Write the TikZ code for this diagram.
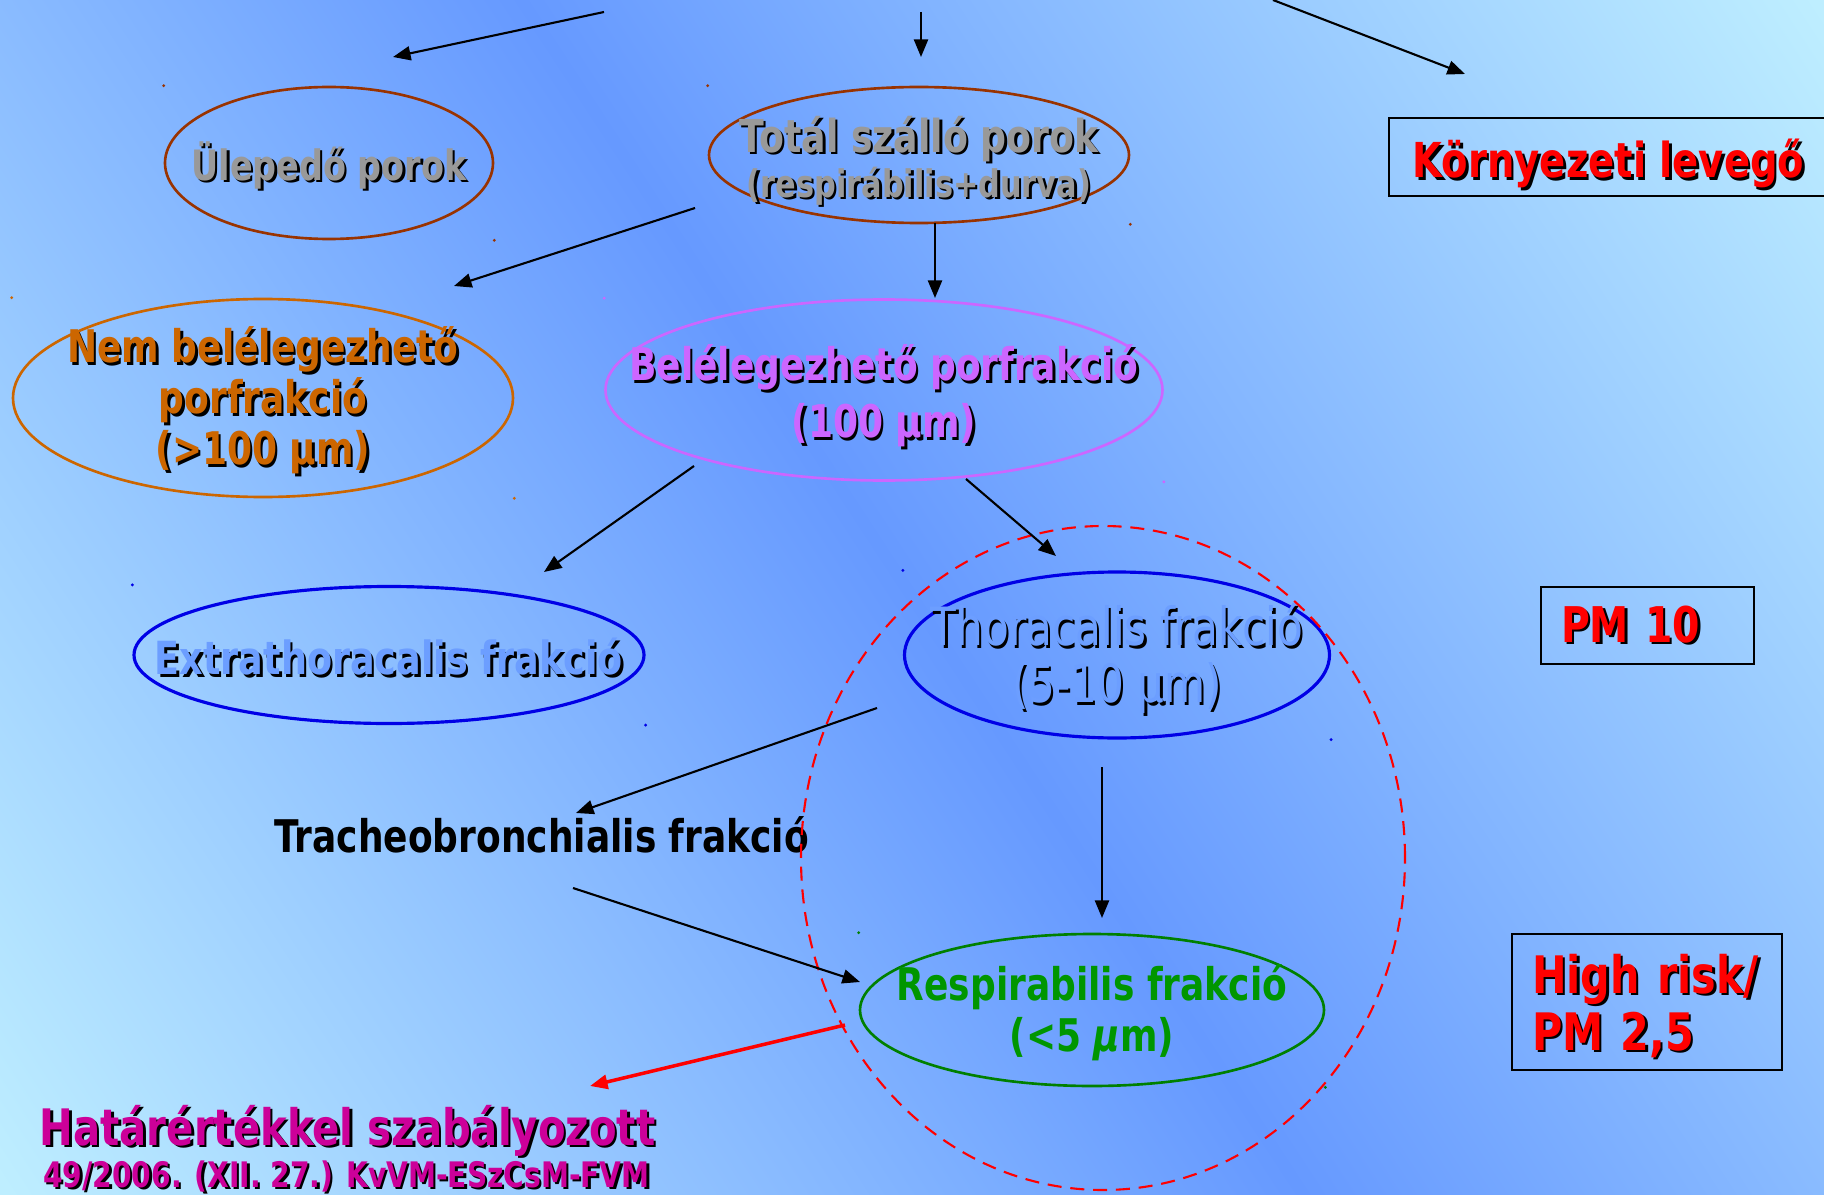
\documentclass[tikz,border=0pt]{standalone}
\usepackage{fontspec}
\setmainfont{DejaVu Sans}[FakeStretch=0.8]
\usetikzlibrary{arrows.meta,shapes.geometric,calc}
\definecolor{bglight}{RGB}{190,238,255}
\definecolor{bgdark}{RGB}{102,153,255}
\definecolor{rustc}{RGB}{153,51,0}
\definecolor{orangec}{RGB}{204,102,0}
\definecolor{violetc}{RGB}{204,102,255}
\definecolor{skyc}{RGB}{108,158,255}
\definecolor{bluec}{RGB}{0,0,230}
\definecolor{greenc}{RGB}{0,150,0}
\definecolor{grassc}{RGB}{0,128,0}
\definecolor{magentac}{RGB}{204,0,153}
\definecolor{graytxt}{RGB}{153,153,153}
\newcommand{\shd}[1]{\leavevmode\rlap{\kern0.7pt\raisebox{-0.7pt}{\color{black}#1}}#1}
\newcommand{\lift}[1]{\rule{0pt}{#1}}

\begin{document}
\begin{tikzpicture}[
    blob/.style={ellipse, draw, line width=0.75pt, inner sep=-3cm, align=center},
    tag/.style={draw=black, line width=0.7pt, inner xsep=0.2cm, inner ysep=0pt, align=left, text=red},
    arr/.style={line width=0.6pt, -{Triangle[length=5pt,width=4pt]}},
    big/.style={font=\fontsize{12.8}{14.5}\selectfont\bfseries},
]
\useasboundingbox (0,0) rectangle (18.24,11.94);
\begin{scope}
\clip (0,0) rectangle (18.24,11.94);
\shade[left color=bglight, right color=bglight, middle color=bgdark, shading angle=-56.8] (9.12,5.97) ++(-10.9,-10.9) rectangle ++(21.8,21.8);
\end{scope}

\node[blob, draw=rustc, minimum width=3.28cm, minimum height=1.52cm, text=graytxt, font=\fontsize{11.9}{14}\selectfont\bfseries] (ule) at (3.29,10.31) {\lift{13pt}\shd{Ülepedő porok}};
\node[blob, draw=rustc, minimum width=4.2cm, minimum height=1.36cm, text=graytxt, font=\fontsize{12.9}{12.8}\selectfont\bfseries] (tot) at (9.19,10.39)
  {\lift{14.3pt}\shd{Totál szálló porok}\\\fontsize{10.8}{12.8}\selectfont\shd{(respirábilis+durva)}};
\node[blob, draw=orangec, minimum width=5cm, minimum height=1.98cm, text=orangec, big] (nem) at (2.63,7.96)
  {\lift{12.4pt}\shd{Nem belélegezhető}\\\shd{porfrakció}\\\shd{(>100 μm)}};
\node[blob, draw=violetc, minimum width=5.57cm, minimum height=1.81cm, text=violetc, font=\fontsize{12.8}{16.2}\selectfont\bfseries] (bel) at (8.84,8.04)
  {\lift{14.3pt}\shd{Belélegezhető porfrakció}\\\shd{(100 μm)}};
\node[blob, draw=bluec, line width=0.9pt, minimum width=5.1cm, minimum height=1.37cm, text=skyc, font=\fontsize{13}{15}\selectfont\bfseries] (ext) at (3.89,5.39)
  {\lift{12.2pt}\shd{Extrathoracalis frakció}};
\node[blob, draw=bluec, line width=0.9pt, minimum width=4.25cm, minimum height=1.66cm, text=skyc, font=\fontsize{15}{16.2}\selectfont] (tho) at (11.17,5.39)
  {\lift{14.8pt}\shd{Thoracalis frakció}\\\shd{(5-10 μm)}};
\node[blob, draw=grassc, minimum width=4.64cm, minimum height=1.52cm, text=greenc, big] (res) at (10.92,1.84)
  {\lift{12pt}Respirabilis frakció\\(<5 {\itshape μ}m)};
\node[big, text=black, anchor=base] (tra) at (5.415,3.42) {Tracheobronchialis frakció};

\node[tag, align=center, minimum width=4.39cm, minimum height=0.78cm, font=\fontsize{13.7}{15}\selectfont\bfseries] (kor) at (16.085,10.37) {\lift{15.6pt}\shd{Környezeti levegő}};
\node[tag, text width=1.73cm, minimum height=0.77cm, font=\fontsize{14}{15}\selectfont\bfseries] (pm) at (16.475,5.685) {\shd{PM 10}};
\node[tag, text width=2.3cm, minimum height=1.36cm, font=\fontsize{14.7}{16.2}\selectfont\bfseries] (hr) at (16.47,1.92) {\lift{14pt}\shd{High risk/}\\\shd{PM 2,5}};

\node[text=magentac, anchor=base, font=\fontsize{14.3}{16}\selectfont\bfseries] (hat) at (3.475,0.49) {\shd{Határértékkel szabályozott}};
\node[text=magentac, anchor=base, font=\fontsize{10}{12}\selectfont\bfseries] (law) at (3.465,0.07) {\shd{49/2006. (XII. 27.) KvVM-ESzCsM-FVM}};

\draw[red, line width=0.6pt, dash pattern=on 4pt off 2.5pt] (11.03,3.36) ellipse [x radius=3.02, y radius=3.32];

\foreach \n/\c in {ule/rustc, tot/rustc, nem/orangec, bel/violetc, ext/bluec, tho/bluec, res/grassc} {
  \fill[\c] (\n.west|-\n.north) circle (0.016);
  \fill[\c] (\n.east|-\n.south) circle (0.016);
}

\coordinate (s1) at (6.04,11.82);
\coordinate (e1) at (3.93,11.37);
\coordinate (s2) at (9.21,11.82);
\coordinate (e2) at (9.21,11.37);
\coordinate (s3) at (12.73,11.94);
\coordinate (e3) at (14.65,11.20);
\coordinate (s4) at (6.95,9.86);
\coordinate (e4) at (4.54,9.08);
\coordinate (s5) at (9.35,9.71);
\coordinate (e5) at (9.35,8.96);
\coordinate (s6) at (6.94,7.28);
\coordinate (e6) at (5.44,6.22);
\coordinate (s7) at (9.66,7.15);
\coordinate (e7) at (10.56,6.38);
\coordinate (s8) at (8.77,4.86);
\coordinate (e8) at (5.76,3.81);
\coordinate (s9) at (11.02,4.27);
\coordinate (e9) at (11.02,2.76);
\coordinate (s10) at (5.73,3.06);
\coordinate (e10) at (8.60,2.12);
\coordinate (s11) at (8.45,1.69);
\coordinate (e11) at (5.90,1.08);
\foreach \i in {1,...,10} {
  \draw[arr] (s\i) -- (e\i);
}
\draw[arr, red, line width=1pt] (s11) -- (e11);
\end{tikzpicture}
\end{document}
